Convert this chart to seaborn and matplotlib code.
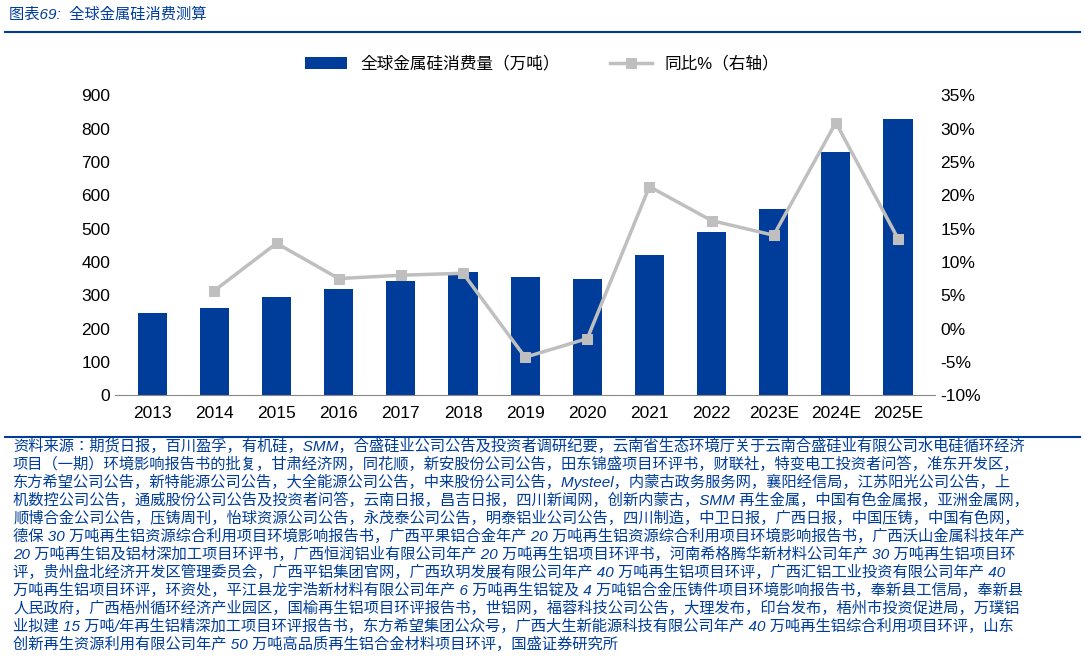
import matplotlib
matplotlib.use("Agg")
import matplotlib.pyplot as plt
import seaborn as sns
import pandas as pd
import numpy as np

plt.rcParams["font.family"] = ["Liberation Sans", "Noto Sans CJK SC", "Noto Sans CJK JP", "DejaVu Sans"]

years = ["2013","2014","2015","2016","2017","2018","2019","2020","2021","2022","2023E","2024E","2025E"]
consumption = [248, 262, 295, 318, 343, 370, 355, 350, 422, 490, 560, 730, 828]
yoy = [None, 5.7, 12.8, 7.5, 8.0, 8.3, -4.3, -1.5, 21.3, 16.2, 14.0, 30.9, 13.5]

source_lines = [
"资料来源：期货日报，百川盈孚，有机硅，SMM，合盛硅业公司公告及投资者调研纪要，云南省生态环境厅关于云南合盛硅业有限公司水电硅循环经济",
"项目（一期）环境影响报告书的批复，甘肃经济网，同花顺，新安股份公司公告，田东锦盛项目环评书，财联社，特变电工投资者问答，准东开发区，",
"东方希望公司公告，新特能源公司公告，大全能源公司公告，中来股份公司公告，Mysteel，内蒙古政务服务网，襄阳经信局，江苏阳光公司公告，上",
"机数控公司公告，通威股份公司公告及投资者问答，云南日报，昌吉日报，四川新闻网，创新内蒙古，SMM 再生金属，中国有色金属报，亚洲金属网，",
"顺博合金公司公告，压铸周刊，怡球资源公司公告，永茂泰公司公告，明泰铝业公司公告，四川制造，中卫日报，广西日报，中国压铸，中国有色网，",
"德保 30 万吨再生铝资源综合利用项目环境影响报告书，广西平果铝合金年产 20 万吨再生铝资源综合利用项目环境影响报告书，广西沃山金属科技年产",
"20 万吨再生铝及铝材深加工项目环评书，广西恒润铝业有限公司年产 20 万吨再生铝项目环评书，河南希格腾华新材料公司年产 30 万吨再生铝项目环",
"评，贵州盘北经济开发区管理委员会，广西平铝集团官网，广西玖玥发展有限公司年产 40 万吨再生铝项目环评，广西汇铝工业投资有限公司年产 40",
"万吨再生铝项目环评，环资处，平江县龙宇浩新材料有限公司年产 6 万吨再生铝锭及 4 万吨铝合金压铸件项目环境影响报告书，奉新县工信局，奉新县",
"人民政府，广西梧州循环经济产业园区，国榆再生铝项目环评报告书，世铝网，福蓉科技公司公告，大理发布，印台发布，梧州市投资促进局，万璞铝",
"业拟建 15 万吨/年再生铝精深加工项目环评报告书，东方希望集团公众号，广西大生新能源科技有限公司年产 40 万吨再生铝综合利用项目环评，山东",
"创新再生资源利用有限公司年产 50 万吨高品质再生铝合金材料项目环评，国盛证券研究所",
]

blue = "#003D9A"
df = pd.DataFrame({"year": years, "cons": consumption, "yoy": yoy})
df["pos"] = np.arange(len(years))

fig = plt.figure(figsize=(10.85, 6.71), dpi=100)
ax = fig.add_axes([0.106, 0.411, 0.756, 0.447])
sns.barplot(data=df, x="year", y="cons", color=blue, saturation=1, width=0.47, ax=ax, label="全球金属硅消费量（万吨）")
ax.set_ylim(0, 900)
ax.set_yticks(range(0, 901, 100))
ax.set_xlim(-0.6, 12.6)
ax.set_xlabel(""); ax.set_ylabel("")
for s in ["top", "right", "left"]:
    ax.spines[s].set_visible(False)
ax.spines["bottom"].set_color("#888888")
ax.tick_params(axis="both", length=0, labelsize=12.5)
ax.tick_params(axis="x", pad=8)

ax2 = ax.twinx()
sns.lineplot(data=df.dropna(), x="pos", y="yoy", color="#BFBFBF", linewidth=2.5, marker="s",
             markersize=7, markeredgecolor="#BFBFBF", ax=ax2, label="同比%（右轴）")
ax2.set_ylim(-10, 35)
ax2.set_yticks(range(-10, 36, 5))
ax2.set_yticklabels([f"{v}%" for v in range(-10, 36, 5)])
ax2.set_xlabel(""); ax2.set_ylabel("")
for s in ["top", "right", "left", "bottom"]:
    ax2.spines[s].set_visible(False)
ax2.tick_params(axis="both", length=0, labelsize=12.5)
ax2.set_xlim(-0.6, 12.6)

h1, l1 = ax.get_legend_handles_labels()
h2, l2 = ax2.get_legend_handles_labels()
if ax.get_legend(): ax.get_legend().remove()
if ax2.get_legend(): ax2.get_legend().remove()
fig.legend(h1 + h2, l1 + l2, loc="center", bbox_to_anchor=(0.5, 0.905), ncol=2, frameon=False,
           fontsize=12, handlelength=2.5, columnspacing=3)

fig.text(0.008, 0.978, "图表69:  全球金属硅消费测算", color=blue, fontsize=11, style="italic", va="center")
fig.add_artist(plt.Line2D([0.005, 0.995], [0.952, 0.952], color=blue, lw=1.5))
fig.add_artist(plt.Line2D([0.005, 0.995], [0.349, 0.349], color=blue, lw=1.5))
y0 = 446
for i, line in enumerate(source_lines):
    fig.text(0.012, 1 - (y0 + i * 18.0) / 671, line, color=blue, fontsize=11, va="center", style="italic")

fig.savefig("out.png", dpi=100)
